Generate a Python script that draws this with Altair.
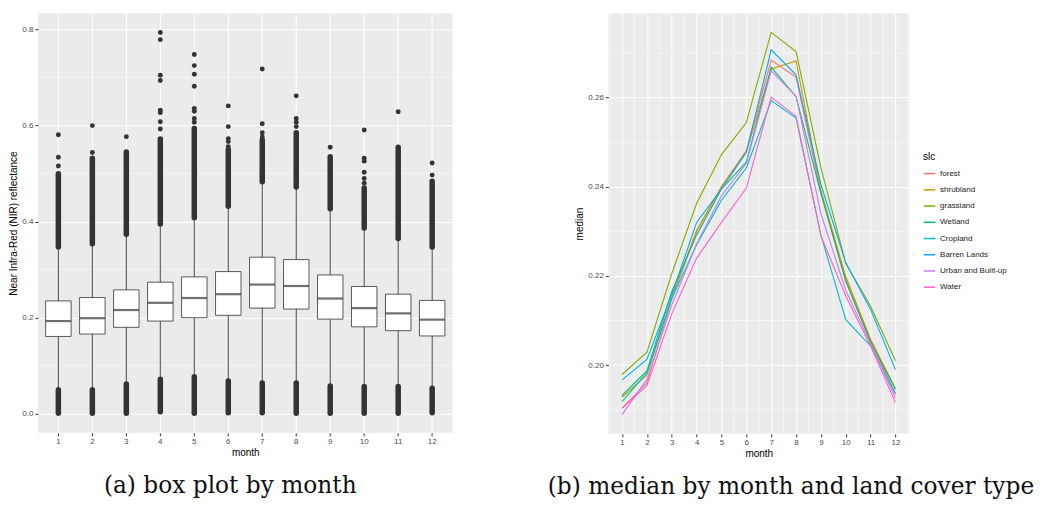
import altair as alt
import pandas as pd

# ---------------- (a) box plot by month ----------------
months = list(range(1, 13))
q1 = [0.161, 0.166, 0.180, 0.193, 0.200, 0.205, 0.220, 0.218, 0.197, 0.181, 0.173, 0.162]
median = [0.193, 0.199, 0.216, 0.231, 0.241, 0.249, 0.269, 0.266, 0.240, 0.220, 0.209, 0.196]
q3 = [0.235, 0.242, 0.258, 0.274, 0.285, 0.296, 0.326, 0.321, 0.289, 0.265, 0.249, 0.236]
whisker_low = [0.050, 0.050, 0.062, 0.072, 0.077, 0.068, 0.064, 0.064, 0.058, 0.057, 0.057, 0.053]
whisker_high = [0.347, 0.354, 0.374, 0.395, 0.408, 0.432, 0.483, 0.472, 0.427, 0.387, 0.365, 0.347]
# dense (overplotted) outlier runs
dense_up_top = [0.500, 0.532, 0.545, 0.572, 0.594, 0.550, 0.570, 0.585, 0.535, 0.470, 0.555, 0.484]
dense_low_bottom = [0.001, 0.001, 0.001, 0.004, 0.001, 0.002, 0.002, 0.001, 0.001, 0.001, 0.001, 0.002]
# isolated outliers per month
sparse_outliers = [
    [0.516, 0.534, 0.581],
    [0.544, 0.600],
    [0.577],
    [0.593, 0.608, 0.627, 0.632, 0.694, 0.705, 0.779, 0.794],
    [0.607, 0.615, 0.630, 0.636, 0.682, 0.707, 0.725, 0.748],
    [0.556, 0.567, 0.573, 0.598, 0.641],
    [0.577, 0.585, 0.604, 0.718],
    [0.598, 0.607, 0.615, 0.662],
    [0.555],
    [0.480, 0.490, 0.503, 0.526, 0.532, 0.591],
    [0.629],
    [0.497, 0.522],
]
left_minor_y = [0.1, 0.3, 0.5, 0.7]

# ---------------- (b) median by month and land cover type ----------------
slc_names = ["forest", "shrubland", "grassland", "Wetland", "Cropland",
             "Barren Lands", "Urban and Built-up", "Water"]
slc_colors = ["#F8766D", "#CD9600", "#7CAE00", "#00BE67", "#00BFC4",
              "#00A9FF", "#C77CFF", "#FF61CC"]
forest = [0.1904, 0.1960, 0.2148, 0.2300, 0.2400, 0.2481, 0.2684, 0.2646, 0.2388, 0.2192, 0.2055, 0.1934]
shrubland = [0.1928, 0.1978, 0.2152, 0.2302, 0.2400, 0.2478, 0.2664, 0.2682, 0.2392, 0.2198, 0.2058, 0.1947]
grassland = [0.1979, 0.2029, 0.2205, 0.2363, 0.2472, 0.2544, 0.2746, 0.2703, 0.2443, 0.2228, 0.2132, 0.2010]
wetland = [0.1932, 0.1987, 0.2165, 0.2292, 0.2395, 0.2455, 0.2668, 0.2602, 0.2385, 0.2188, 0.2052, 0.1946]
cropland = [0.1918, 0.1983, 0.2150, 0.2270, 0.2370, 0.2442, 0.2593, 0.2554, 0.2292, 0.2102, 0.2043, 0.1937]
barren = [0.1967, 0.2013, 0.2158, 0.2320, 0.2395, 0.2477, 0.2707, 0.2651, 0.2405, 0.2230, 0.2125, 0.1990]
urban = [0.1889, 0.1968, 0.2135, 0.2272, 0.2380, 0.2452, 0.2660, 0.2603, 0.2340, 0.2168, 0.2048, 0.1927]
water = [0.1903, 0.1954, 0.2115, 0.2240, 0.2320, 0.2397, 0.2601, 0.2558, 0.2290, 0.2155, 0.2043, 0.1916]
right_minor_y = [0.19, 0.21, 0.23, 0.25, 0.27]
right_minor_x = [0.5, 1.5, 2.5, 3.5, 4.5, 5.5, 6.5, 7.5, 8.5, 9.5, 10.5, 11.5, 12.5]

# ---------------- tables ----------------
box_df = pd.DataFrame({"month": months, "q1": q1, "med": median, "q3": q3,
                       "wlo": whisker_low, "whi": whisker_high,
                       "dtop": dense_up_top, "dbot": dense_low_bottom})
out_rows = [{"month": m, "v": v} for m, vals in zip(months, sparse_outliers) for v in vals]
out_df = pd.DataFrame(out_rows)
lminor_df = pd.DataFrame({"v": left_minor_y})

series = [forest, shrubland, grassland, wetland, cropland, barren, urban, water]
line_df = pd.DataFrame([{"month": m, "value": v, "slc": name}
                        for name, vals in zip(slc_names, series)
                        for m, v in zip(months, vals)])
rminor_y_df = pd.DataFrame({"v": right_minor_y})
rminor_x_df = pd.DataFrame({"v": right_minor_x})

DARK = "#333333"
CAPTION_FONT = "DejaVu Serif"
CAP_SIZE = 23.3
CAP_OFFSET = 17

# ---------------- left chart ----------------
yscale_l = alt.Scale(domain=[-0.0397, 0.834], nice=False, zero=False)
yaxis_l = alt.Axis(values=[0, 0.2, 0.4, 0.6, 0.8], format=".1f", grid=True, titlePadding=3)
xscale_l = alt.Scale(paddingInner=0, paddingOuter=0.1)
xaxis_l = alt.Axis(labelAngle=0, grid=True, titlePadding=2)
YT = "Near Infra-Red (NIR) reflectance"


def YL(field):
    return alt.Y(field, type="quantitative", scale=yscale_l, axis=yaxis_l, title=YT)


def XL():
    return alt.X("month:O", scale=xscale_l, axis=xaxis_l, title="month")


minor_l = alt.Chart(lminor_df).mark_rule(color="white", strokeWidth=0.5).encode(y=YL("v"))
base = alt.Chart(box_df)
whisk = base.mark_rule(color=DARK, strokeWidth=0.9).encode(x=XL(), y=YL("wlo"), y2="whi")
dense_hi = base.mark_rule(color=DARK, strokeWidth=5.5, strokeCap="round").encode(
    x=XL(), y=YL("whi"), y2="dtop")
dense_lo = base.mark_rule(color=DARK, strokeWidth=5.5, strokeCap="round").encode(
    x=XL(), y=YL("dbot"), y2="wlo")
pts = alt.Chart(out_df).mark_circle(size=24, color=DARK, opacity=1).encode(x=XL(), y=YL("v"))
box = base.mark_bar(size=25.5, fill="white", stroke=DARK, strokeWidth=0.8).encode(
    x=XL(), y=YL("q1"), y2="q3")
med = base.mark_tick(size=25.5, thickness=2.2, color=DARK, orient="horizontal").encode(
    x=XL(), y=YL("med"))

left = alt.layer(minor_l, whisk, dense_hi, dense_lo, pts, box, med).properties(
    width=415, height=420,
    title=alt.TitleParams("(a) box plot by month", orient="bottom", anchor="middle",
                          font=CAPTION_FONT, fontSize=CAP_SIZE, fontWeight="normal",
                          color="#111111", offset=CAP_OFFSET, dx=-15, baseline="top"))

# ---------------- right chart ----------------
yscale_r = alt.Scale(domain=[0.1846, 0.2789], nice=False, zero=False)
yaxis_r = alt.Axis(values=[0.20, 0.22, 0.24, 0.26], format=".2f", grid=True, titlePadding=3)
xscale_r = alt.Scale(domain=[0.45, 12.55], nice=False, zero=False)
xaxis_r = alt.Axis(values=months, format="d", grid=True, titlePadding=2)


def YR(field):
    return alt.Y(field, type="quantitative", scale=yscale_r, axis=yaxis_r, title="median")


def XR(field):
    return alt.X(field, type="quantitative", scale=xscale_r, axis=xaxis_r, title="month")


rminor_h = alt.Chart(rminor_y_df).mark_rule(color="white", strokeWidth=0.5).encode(y=YR("v"))
rminor_v = alt.Chart(rminor_x_df).mark_rule(color="white", strokeWidth=0.5).encode(x=XR("v"))
lines = alt.Chart(line_df).mark_line(strokeWidth=1.1).encode(
    x=XR("month"), y=YR("value"),
    color=alt.Color("slc:N", scale=alt.Scale(domain=slc_names, range=slc_colors),
                    sort=slc_names,
                    legend=alt.Legend(title="slc", orient="none", legendX=315, legendY=139,
                                      symbolType="stroke", symbolStrokeWidth=1.5,
                                      symbolSize=130, labelFontSize=8,
                                      labelFont="Liberation Sans", labelColor="#222222",
                                      titleFont="Liberation Sans", titleFontSize=10,
                                      titleFontWeight="normal", titlePadding=5,
                                      rowPadding=5.25, labelOffset=4)),
    detail="slc:N")

right = alt.layer(rminor_h, rminor_v, lines).properties(
    width=301, height=421,
    title=alt.TitleParams("(b) median by month and land cover type", orient="bottom",
                          anchor="middle", font=CAPTION_FONT, fontSize=CAP_SIZE,
                          fontWeight="normal", color="#111111", offset=CAP_OFFSET, dx=32.2,
                          baseline="top"))

chart = alt.hconcat(left, right, spacing=94).resolve_scale(color="independent").properties(
    padding={"left": 0, "top": 4, "right": 0, "bottom": 0},
    background="white",
).configure_view(fill="#EBEBEB", strokeWidth=0).configure_axis(
    labelFont="Liberation Sans", labelFontSize=8, labelColor="#4D4D4D",
    titleFont="Liberation Sans", titleFontSize=10, titleFontWeight="normal",
    titleColor="#000000", tickColor=DARK, tickSize=3, domain=False,
    gridColor="white", gridWidth=1, labelPadding=2,
)

chart.save("out.html", embed_options={"renderer": "svg", "actions": False})
